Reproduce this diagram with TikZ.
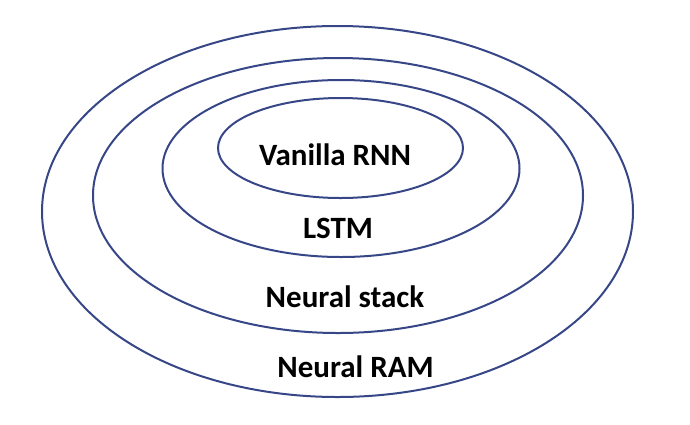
\documentclass[tikz,border=0pt]{standalone}
\usepackage{fontspec}
\setmainfont{Carlito}
\usepackage{tikz}
\usetikzlibrary{shapes.geometric,positioning}
\definecolor{ringblue}{RGB}{55,70,135}
\tikzset{ring/.style={ellipse,draw=ringblue,line width=2pt,inner sep=0pt},
         lbl/.style={anchor=base,inner sep=0pt,font=\fontsize{31}{37}\selectfont\bfseries}}

\begin{document}
\begin{tikzpicture}[x=1pt,y=-1pt]
                   \useasboundingbox (0,0) rectangle (690,424);
                   \node[ring,minimum width=591pt,minimum height=371pt] (r_ram)   at (337.5,211.5) {};
                   \node[ring,minimum width=490pt,minimum height=275pt] (r_stack) at (338,195.5) {};
                   \node[ring,minimum width=357pt,minimum height=177pt] (r_lstm)  at (341,168.5) {};
                   \node[ring,minimum width=245pt,minimum height=100pt] (r_rnn)   at (340.5,148) {};
                   \node[lbl] (t_rnn)   at (335,165)   {Vanilla RNN};
                   \node[lbl] (t_lstm)  at (338,238)   {LSTM};
                   \node[lbl] (t_stack) at (345,307)   {Neural stack};
                   \node[lbl] (t_ram)   at (355.5,377) {Neural RAM};
                \end{tikzpicture}
\end{document}
